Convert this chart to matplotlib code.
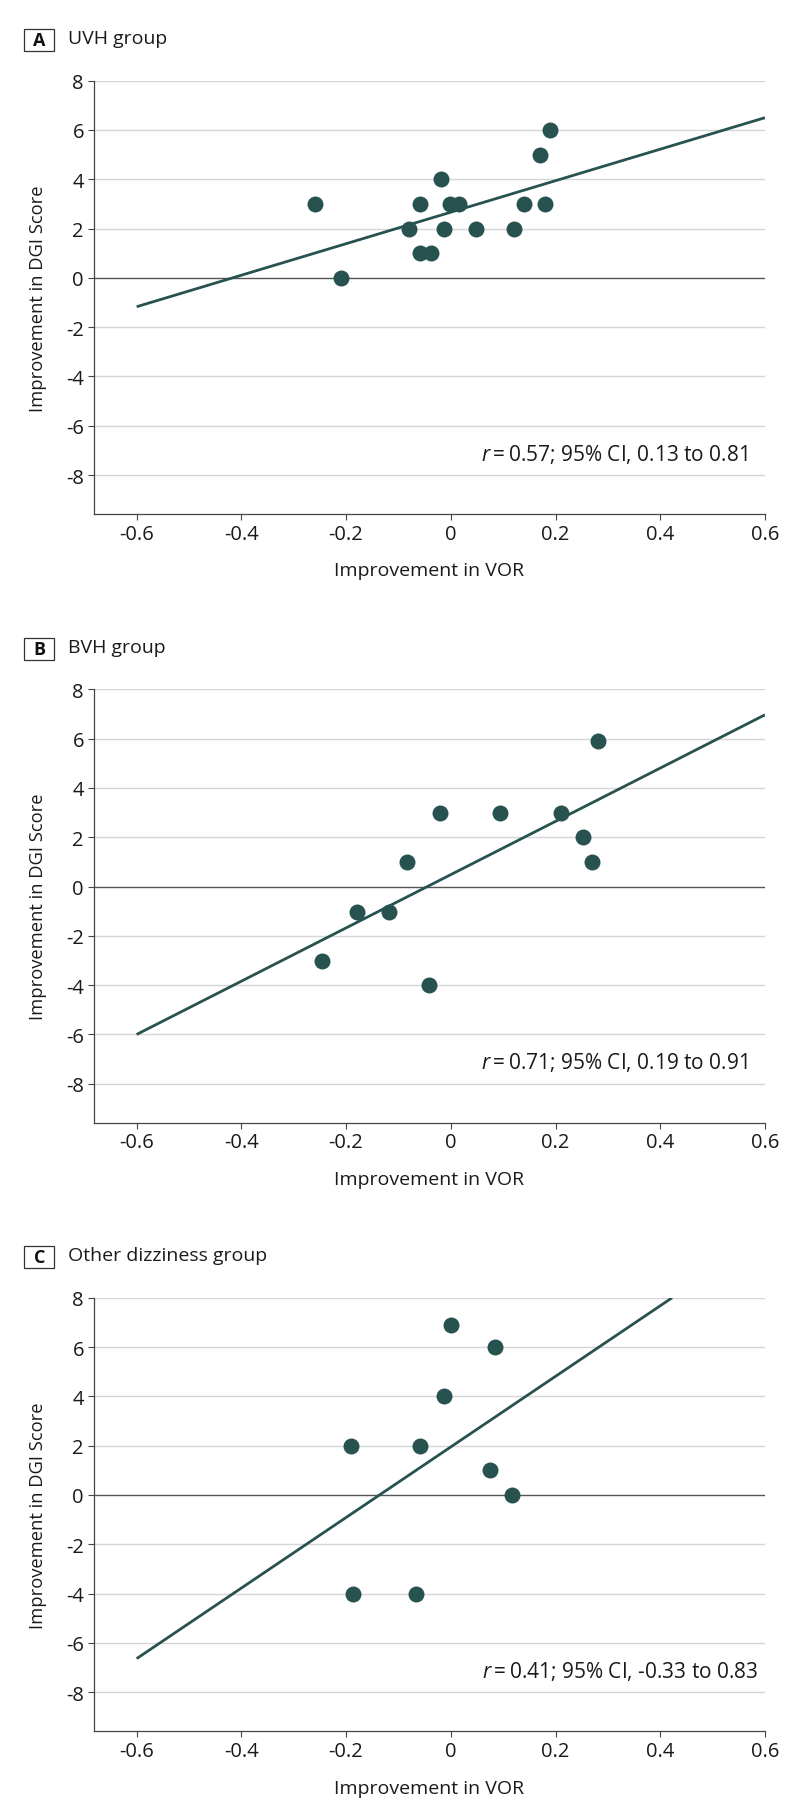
import matplotlib
matplotlib.use("Agg")
import matplotlib.pyplot as plt
from matplotlib.patches import Rectangle

plt.rcParams['font.family'] = ['Open Sans', 'DejaVu Sans']
plt.rcParams['mathtext.fontset'] = 'custom'
plt.rcParams['mathtext.rm'] = 'Open Sans'
plt.rcParams['mathtext.it'] = 'Open Sans:italic'

# panel data
letters = ['A', 'B', 'C']
titles = ['UVH group', 'BVH group', 'Other dizziness group']
notes = ['$r$\u2009=\u20090.57; 95% CI, 0.13 to 0.81',
         '$r$\u2009=\u20090.71; 95% CI, 0.19 to 0.91',
         '$r$\u2009=\u20090.41; 95% CI, -0.33 to 0.83']

uvh_x = [-0.26, -0.21, -0.079, -0.059, -0.059, -0.037, -0.019, -0.0135,
         -0.001, 0.0155, 0.049, 0.121, 0.140, 0.171, 0.180, 0.190]
uvh_y = [3, 0, 2, 3, 1, 1, 4, 2, 3, 3, 2, 2, 3, 5, 3, 6]

bvh_x = [-0.246, -0.179, -0.118, -0.083, -0.041, -0.021, 0.094, 0.211, 0.252, 0.269, 0.281]
bvh_y = [-3, -1.05, -1.05, 1, -4, 3, 3, 3, 2, 1, 5.9]

oth_x = [-0.191, -0.186, -0.066, -0.059, -0.0135, 0.0, 0.074, 0.084, 0.117]
oth_y = [2, -4, -4, 2, 4, 6.9, 1, 6, 0]

# fitted lines, end points
uvh_fit_x = [-0.6, 0.6]
uvh_fit_y = [-1.17, 6.5]
bvh_fit_x = [-0.6, 0.6]
bvh_fit_y = [-6.0, 6.97]
oth_fit_x = [-0.6, 0.4225]
oth_fit_y = [-6.64, 8.0]

xs = [uvh_x, bvh_x, oth_x]
ys = [uvh_y, bvh_y, oth_y]
fxs = [uvh_fit_x, bvh_fit_x, oth_fit_x]
fys = [uvh_fit_y, bvh_fit_y, oth_fit_y]

xticks = [-0.6, -0.4, -0.2, 0, 0.2, 0.4, 0.6]
xticklabels = ['-0.6', '-0.4', '-0.2', '0', '0.2', '0.4', '0.6']
yticks = [-8, -6, -4, -2, 0, 2, 4, 6, 8]
yticklabels = ['-8', '-6', '-4', '-2', '0', '2', '4', '6', '8']

W, H = 794, 1815
teal = '#275250'
txt = '#1a1a1a'
fig = plt.figure(figsize=(W / 100, H / 100), dpi=100)

ax_left, ax_right = 93.7, 765
ax_tops = [81.7, 690.4, 1298.8]
ax_h = 433.3
ax_w = ax_right - ax_left
note_right = [748, 748, 758]

for i in range(3):
    top = ax_tops[i]
    ax = fig.add_axes([ax_left / W, 1 - (top + ax_h) / H, ax_w / W, ax_h / H])
    ax.set_xlim(-0.682, 0.6)
    ax.set_ylim(-9.58, 8)
    for s in ['top', 'right']:
        ax.spines[s].set_visible(False)
    for s in ['left', 'bottom']:
        ax.spines[s].set_color('#444444')
        ax.spines[s].set_linewidth(0.9)

    for yv in yticks:
        if yv == 0:
            ax.axhline(0, color='#555555', lw=1.0, zorder=1)
        else:
            ax.axhline(yv, color='#d6d6d6', lw=1.0, zorder=0)

    ax.plot(fxs[i], fys[i], color=teal, lw=2.0, zorder=2, solid_capstyle='butt')
    ax.plot(xs[i], ys[i], 'o', color=teal, markersize=11.5, markeredgewidth=0, zorder=3)

    ax.set_xticks(xticks)
    ax.set_xticklabels(xticklabels)
    ax.set_yticks(yticks)
    ax.set_yticklabels(yticklabels)
    ax.tick_params(axis='both', length=4, width=0.8, color='#444444',
                   labelsize=14.5, labelcolor=txt, pad=3)

    ax.set_xlabel('Improvement in VOR', fontsize=14, color=txt)
    ax.set_ylabel('Improvement in DGI Score', fontsize=13.2, color=txt)
    ax.xaxis.set_label_coords(0.5, -56.5 / ax_h)
    ax.xaxis.label.set_verticalalignment('center')
    ax.yaxis.set_label_coords((38 - ax_left) / ax_w, 0.5)
    ax.yaxis.label.set_verticalalignment('center')

    ax.text((note_right[i] - ax_left) / ax_w, (ax_h - 372.5) / ax_h,
            notes[i], transform=ax.transAxes, ha='right', va='center',
            fontsize=15, color=txt)

    # panel letter box and title
    bx0, bx1 = 24.3, 54.3
    by0, by1 = top - 51.7, top - 29.7
    fig.add_artist(Rectangle((bx0 / W, 1 - by1 / H), (bx1 - bx0) / W, (by1 - by0) / H,
                             transform=fig.transFigure, fill=False, edgecolor='#333333', lw=0.9))
    fig.text((bx0 + bx1) / 2 / W, 1 - (by0 + by1) / 2 / H, letters[i], ha='center', va='center',
             fontsize=13, fontweight='bold', color='#111111')
    fig.text(68 / W, 1 - (top - 42.7) / H, titles[i], ha='left', va='center',
             fontsize=14, color=txt)

fig.savefig('out.png', dpi=100, facecolor='white')
